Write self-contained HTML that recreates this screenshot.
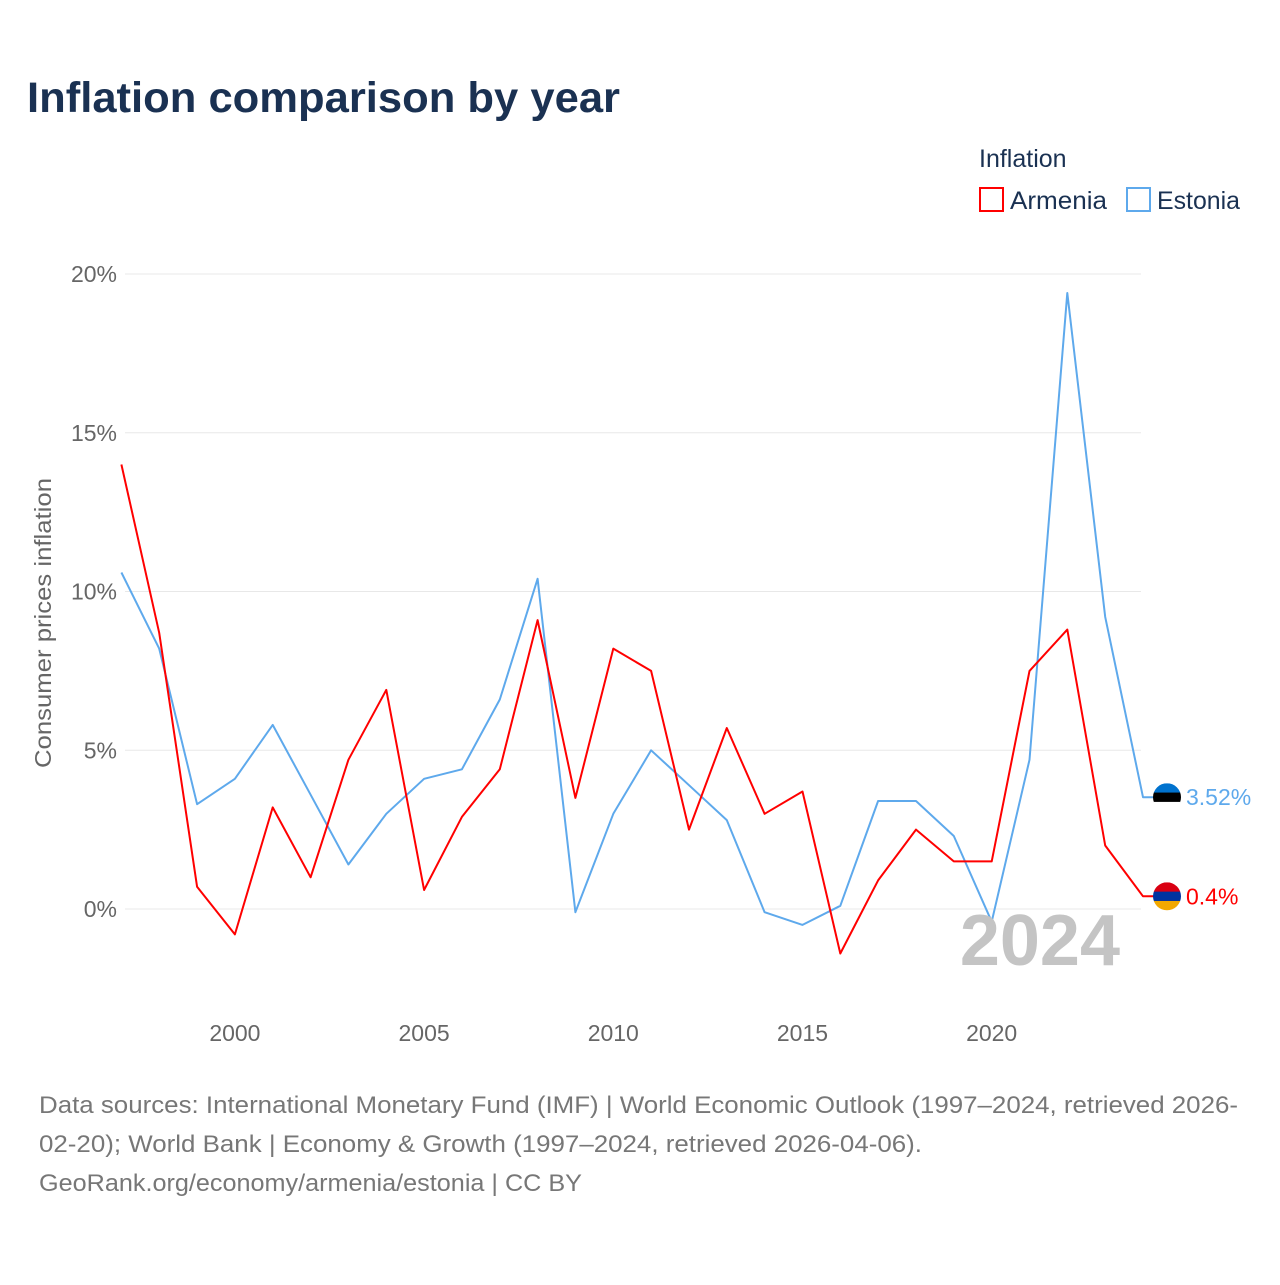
<!DOCTYPE html>
<html><head><meta charset="utf-8"><style>
body{margin:0;background:#fff;font-family:"Liberation Sans",sans-serif;}
svg text{font-family:"Liberation Sans",sans-serif;}
</style></head><body>
<svg id="chart" width="1280" height="1280" xmlns="http://www.w3.org/2000/svg">
<text x="27" y="112" font-size="43" font-weight="bold" fill="#1a3152" textLength="593" lengthAdjust="spacingAndGlyphs">Inflation comparison by year</text>
<g>
<text x="979" y="167" font-size="25" fill="#1a3152">Inflation</text>
<g><rect x="980" y="188" width="23" height="23" fill="none" stroke="#ff0000" stroke-width="2"/><text x="1010" y="209" font-size="25" fill="#1a3152" textLength="97" lengthAdjust="spacingAndGlyphs">Armenia</text></g>
<g><rect x="1127" y="188" width="23" height="23" fill="none" stroke="#5ea9ec" stroke-width="2"/><text x="1157" y="209" font-size="25" fill="#1a3152" textLength="83" lengthAdjust="spacingAndGlyphs">Estonia</text></g>
</g>
<g id="grid"></g><g id="xticks"></g><g id="series"></g>
<text transform="translate(51,623) rotate(-90)" text-anchor="middle" font-size="23" fill="#666" textLength="290" lengthAdjust="spacingAndGlyphs">Consumer prices inflation</text>
<text x="1120" y="965" text-anchor="end" font-size="72" font-weight="bold" fill="#c4c4c4">2024</text>
<g font-size="24" fill="#777">
<text x="39" y="1113" textLength="1199" lengthAdjust="spacingAndGlyphs">Data sources: International Monetary Fund (IMF) | World Economic Outlook (1997–2024, retrieved 2026-</text>
<text x="39" y="1152" textLength="883" lengthAdjust="spacingAndGlyphs">02-20); World Bank | Economy &amp; Growth (1997–2024, retrieved 2026-04-06).</text>
<text x="39" y="1191" textLength="543" lengthAdjust="spacingAndGlyphs">GeoRank.org/economy/armenia/estonia | CC BY</text>
</g>
</svg>
<script>
const years=[1997,1998,1999,2000,2001,2002,2003,2004,2005,2006,2007,2008,2009,2010,2011,2012,2013,2014,2015,2016,2017,2018,2019,2020,2021,2022,2023,2024];
const armenia=[14.0,8.7,0.7,-0.8,3.2,1.0,4.7,6.9,0.6,2.9,4.4,9.1,3.5,8.2,7.5,2.5,5.7,3.0,3.7,-1.4,0.9,2.5,1.5,1.5,7.5,8.8,2.0,0.4];
const estonia=[10.6,8.2,3.3,4.1,5.8,3.6,1.4,3.0,4.1,4.4,6.6,10.4,-0.1,3.0,5.0,3.9,2.8,-0.1,-0.5,0.1,3.4,3.4,2.3,-0.4,4.7,19.4,9.2,3.52];
const yTicks=[0,5,10,15,20];
const xTicks=[2000,2005,2010,2015,2020];
const NS="http://www.w3.org/2000/svg";
const X=y=>121.4+(y-1997)*(1143-121.4)/27;
const Y=v=>909-v*(909-274)/20;
function mk(t,a,p){const e=document.createElementNS(NS,t);for(const k in a)e.setAttribute(k,a[k]);p.appendChild(e);return e;}
const grid=document.getElementById('grid');
yTicks.forEach(v=>{
 const l=mk('line',{x1:125,x2:1141,y1:Y(v),y2:Y(v),stroke:'#e8e8e8','stroke-width':1},grid);
 
 
 const t=mk('text',{x:117,y:Y(v)+8,'text-anchor':'end','font-size':23,fill:'#666'},grid);
 t.textContent=v+'%';
 
 
});
const xt=document.getElementById('xticks');
xTicks.forEach(v=>{
 const t=mk('text',{x:X(v),y:1041,'text-anchor':'middle','font-size':23,fill:'#666'},xt);
 t.textContent=v;
 
 
});
const s=document.getElementById('series');
function line(vals,col,name,label,flag){
 const d=vals.map((v,i)=>(i?'L':'M')+X(years[i]).toFixed(1)+','+Y(v).toFixed(1)).join('')+'L1155,'+Y(vals[vals.length-1]).toFixed(1);
 const p=mk('path',{d:d,fill:'none',stroke:col,'stroke-width':2,'stroke-linejoin':'round'},s);
 
 
 const yy=Y(vals[vals.length-1]);
 const g=mk('g',{},s);
 
 
 const cp=mk('clipPath',{id:'c'+name},g);mk('circle',{cx:1167,cy:yy,r:14},cp);
 const gg=mk('g',{'clip-path':'url(#c'+name+')'},g);
 flag.forEach((c,i)=>mk('rect',{x:1153,y:yy-14+i*28/3,width:28,height:28/3+0.5,fill:c},gg));
 const t=mk('text',{x:1186,y:yy+8,'font-size':23,fill:col},s);
 t.textContent=label;
 
 
}
line(estonia,'#5ea9ec','estonia','3.52%',['#0072ce','#000','#fff']);
line(armenia,'#ff0000','armenia','0.4%',['#d90012','#0033a0','#f2a800']);
</script>
</body></html>
